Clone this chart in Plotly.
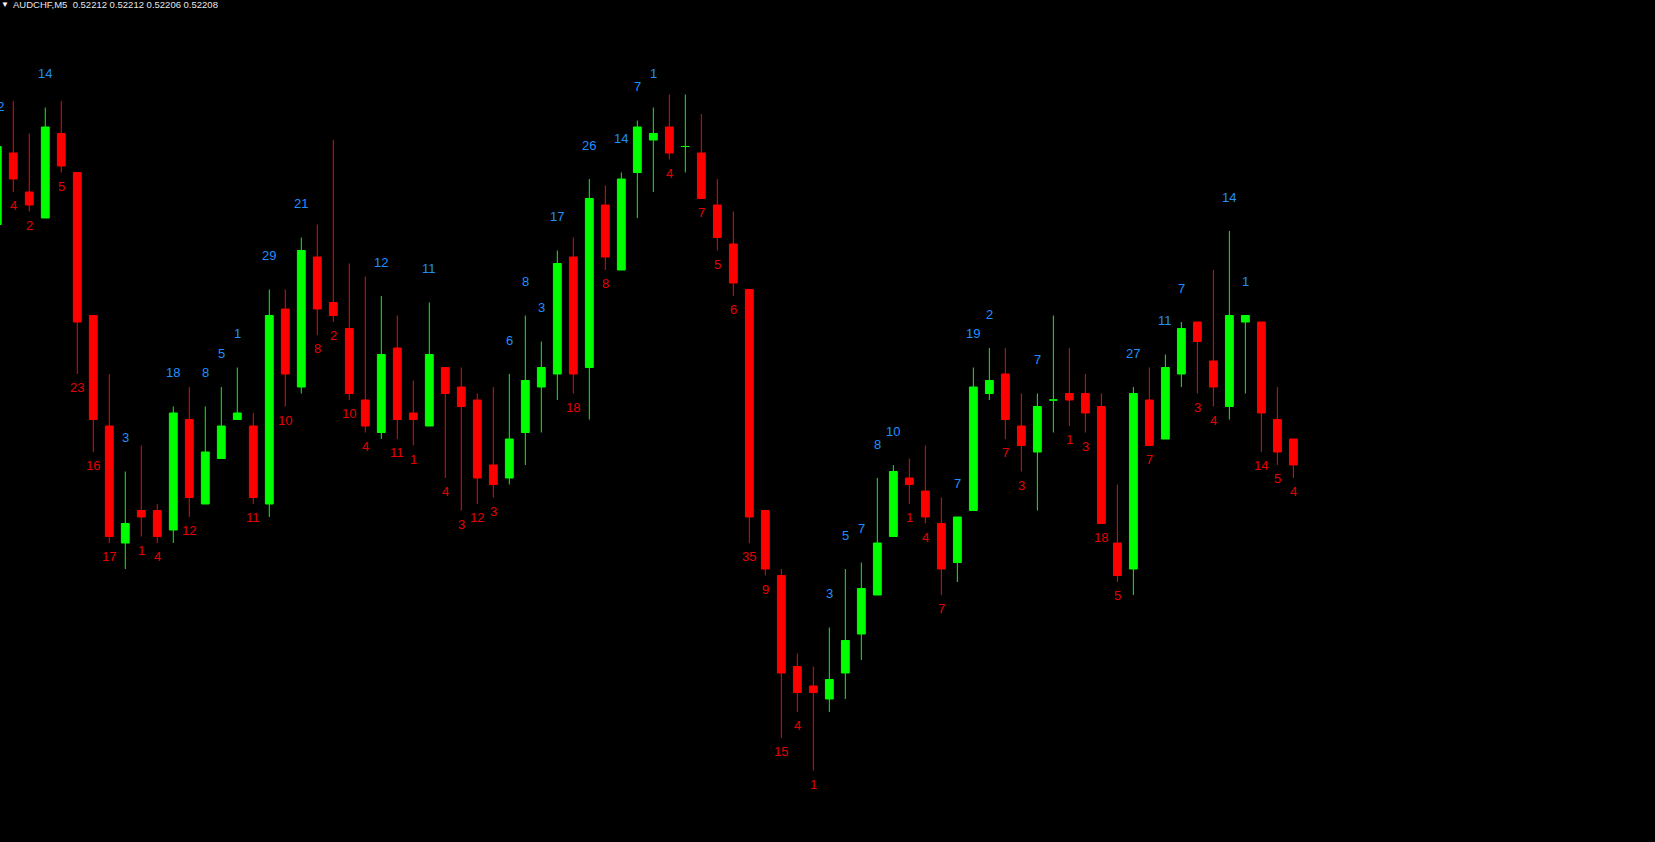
import plotly.graph_objects as go


# ==========================
# DATA  (AUDCHF, M5)
# ==========================

bars = list(range(-1, 81))

open_ = [
    0.52245, 0.52256, 0.52250, 0.52246, 0.52259, 0.52253, 0.52231, 0.52214, 0.52196, 0.52201,
    0.52201, 0.52198, 0.52215, 0.52202, 0.52209, 0.52215, 0.52214, 0.52202, 0.52232, 0.52220,
    0.52240, 0.52233, 0.52229, 0.52218, 0.52213, 0.52226, 0.52216, 0.52214, 0.52223, 0.52220,
    0.52218, 0.52208, 0.52206, 0.52213, 0.52220, 0.52222, 0.52240, 0.52223, 0.52248, 0.52238,
    0.52253, 0.52258, 0.52260, 0.52257, 0.52256, 0.52248, 0.52242, 0.52235, 0.52201, 0.52191,
    0.52177, 0.52174, 0.52172, 0.52176, 0.52182, 0.52188, 0.52197, 0.52206, 0.52204, 0.52199,
    0.52193, 0.52201, 0.52219, 0.52222, 0.52214, 0.52210, 0.52218, 0.52219, 0.52219, 0.52217,
    0.52196, 0.52192, 0.52218, 0.52212, 0.52222, 0.52230, 0.52224, 0.52217, 0.52230, 0.52230,
    0.52215, 0.52212,
]

high = [
    0.52258, 0.52264, 0.52259, 0.52263, 0.52264, 0.52253, 0.52231, 0.52222, 0.52207, 0.52211,
    0.52202, 0.52217, 0.52220, 0.52217, 0.52220, 0.52223, 0.52216, 0.52235, 0.52235, 0.52243,
    0.52245, 0.52258, 0.52239, 0.52237, 0.52234, 0.52231, 0.52221, 0.52233, 0.52223, 0.52223,
    0.52219, 0.52220, 0.52222, 0.52231, 0.52227, 0.52241, 0.52243, 0.52252, 0.52251, 0.52253,
    0.52261, 0.52263, 0.52265, 0.52265, 0.52262, 0.52252, 0.52247, 0.52235, 0.52201, 0.52192,
    0.52179, 0.52177, 0.52183, 0.52192, 0.52193, 0.52206, 0.52208, 0.52209, 0.52211, 0.52203,
    0.52200, 0.52223, 0.52226, 0.52226, 0.52219, 0.52219, 0.52231, 0.52226, 0.52222, 0.52219,
    0.52205, 0.52220, 0.52223, 0.52225, 0.52230, 0.52230, 0.52238, 0.52244, 0.52231, 0.52230,
    0.52220, 0.52212,
]

low = [
    0.52244, 0.52250, 0.52247, 0.52246, 0.52253, 0.52222, 0.52210, 0.52196, 0.52192, 0.52197,
    0.52196, 0.52196, 0.52200, 0.52202, 0.52209, 0.52215, 0.52202, 0.52200, 0.52217, 0.52219,
    0.52228, 0.52230, 0.52218, 0.52213, 0.52212, 0.52212, 0.52211, 0.52214, 0.52206, 0.52201,
    0.52202, 0.52203, 0.52205, 0.52208, 0.52213, 0.52218, 0.52219, 0.52215, 0.52238, 0.52238,
    0.52246, 0.52250, 0.52255, 0.52253, 0.52249, 0.52241, 0.52234, 0.52196, 0.52191, 0.52166,
    0.52170, 0.52161, 0.52170, 0.52172, 0.52178, 0.52188, 0.52197, 0.52202, 0.52199, 0.52188,
    0.52190, 0.52201, 0.52218, 0.52212, 0.52207, 0.52201, 0.52213, 0.52214, 0.52213, 0.52199,
    0.52190, 0.52188, 0.52211, 0.52212, 0.52220, 0.52219, 0.52217, 0.52215, 0.52219, 0.52210,
    0.52208, 0.52206,
]

close = [
    0.52257, 0.52252, 0.52248, 0.52260, 0.52254, 0.52230, 0.52215, 0.52197, 0.52199, 0.52200,
    0.52197, 0.52216, 0.52203, 0.52210, 0.52214, 0.52216, 0.52203, 0.52231, 0.52222, 0.52241,
    0.52232, 0.52231, 0.52219, 0.52214, 0.52225, 0.52215, 0.52215, 0.52225, 0.52219, 0.52217,
    0.52206, 0.52205, 0.52212, 0.52221, 0.52223, 0.52239, 0.52222, 0.52249, 0.52240, 0.52252,
    0.52260, 0.52259, 0.52256, 0.52257, 0.52249, 0.52243, 0.52236, 0.52200, 0.52192, 0.52176,
    0.52173, 0.52173, 0.52175, 0.52181, 0.52189, 0.52196, 0.52207, 0.52205, 0.52200, 0.52192,
    0.52200, 0.52220, 0.52221, 0.52215, 0.52211, 0.52217, 0.52218, 0.52218, 0.52216, 0.52199,
    0.52191, 0.52219, 0.52211, 0.52223, 0.52229, 0.52227, 0.52220, 0.52231, 0.52231, 0.52216,
    0.52210, 0.52208,
]

# body size in points, as printed by the indicator
body_points = [
    12, 4, 2, 14, 5, 23, 16, 17, 3, 1,
    4, 18, 12, 8, 5, 1, 11, 29, 10, 21,
    8, 2, 10, 4, 12, 11, 1, 11, 4, 3,
    12, 3, 6, 8, 3, 17, 18, 26, 8, 14,
    7, 1, 4, 0, 7, 5, 6, 35, 9, 15,
    4, 1, 3, 5, 7, 8, 10, 1, 4, 7,
    7, 19, 2, 7, 3, 7, 0, 1, 3, 18,
    5, 27, 7, 11, 7, 3, 4, 14, 1, 14,
    5, 4,
]

symbol = "AUDCHF,M5"
last_ohlc = ["0.52212", "0.52212", "0.52206", "0.52208"]


# ==========================
# STYLE
# ==========================

BULL = "#00ff00"
BEAR = "#ff0000"
BLUE_TXT = "#1e90ff"
RED_TXT = "#e60000"
FONT = "Liberation Sans, Arial, sans-serif"

X_RANGE = [-0.83, 102.6]
Y_RANGE = [0.52150, 0.5227954]


fig = go.Figure()

fig.add_trace(
    go.Candlestick(
        x=bars,
        open=open_,
        high=high,
        low=low,
        close=close,
        increasing=dict(line=dict(color=BULL, width=1), fillcolor=BULL),
        decreasing=dict(line=dict(color=BEAR, width=1), fillcolor=BEAR),
        whiskerwidth=0,
        hoverinfo="skip",
        showlegend=False
    )
)


# point counters above bull bars / below bear bars
annotations = []

for i, pts in enumerate(body_points):

    if pts == 0:
        continue

    bull = close[i] > open_[i]

    label = dict(
        x=bars[i],
        y=high[i] if bull else low[i],
        text=str(pts),
        showarrow=False,
        xanchor="center",
        yanchor="middle",
        yshift=34 if bull else -13.5,
        font=dict(
            family=FONT,
            size=13,
            color=BLUE_TXT if bull else RED_TXT
        )
    )

    # plotly hides axis-anchored notes whose bar sits left of the range;
    # keep the half-visible first counter by placing it in paper units
    if bars[i] < X_RANGE[0]:
        label["xref"] = "paper"
        label["x"] = (bars[i] - X_RANGE[0]) / (X_RANGE[1] - X_RANGE[0])

    annotations.append(label)


# chart header
annotations.append(
    dict(
        x=0.0,
        y=1.0,
        xref="paper",
        yref="paper",
        xanchor="left",
        yanchor="top",
        xshift=-1,
        yshift=2,
        text="\u25bc",
        showarrow=False,
        font=dict(family=FONT, size=8, color="#ffffff")
    )
)

annotations.append(
    dict(
        x=0.0,
        y=1.0,
        xref="paper",
        yref="paper",
        xanchor="left",
        yanchor="top",
        xshift=11,
        yshift=3,
        text=symbol + "  " + " ".join(last_ohlc),
        showarrow=False,
        font=dict(family=FONT, size=9.5, color="#e6e6e6")
    )
)


fig.update_layout(
    width=1655,
    height=842,
    margin=dict(l=0, r=0, t=0, b=0),
    paper_bgcolor="#000000",
    plot_bgcolor="#000000",
    boxgap=0.3,
    annotations=annotations,
    xaxis=dict(
        range=X_RANGE,
        visible=False,
        rangeslider=dict(visible=False),
        fixedrange=True
    ),
    yaxis=dict(
        range=Y_RANGE,
        visible=False,
        fixedrange=True
    )
)


# page itself black and flush with the window
page_js = (
    "document.body.style.margin='0';"
    "document.body.style.background='#000000';"
    "document.body.style.overflow='hidden';"
)

fig.write_html(
    "out.html",
    config={"displayModeBar": False},
    post_script=page_js
)
